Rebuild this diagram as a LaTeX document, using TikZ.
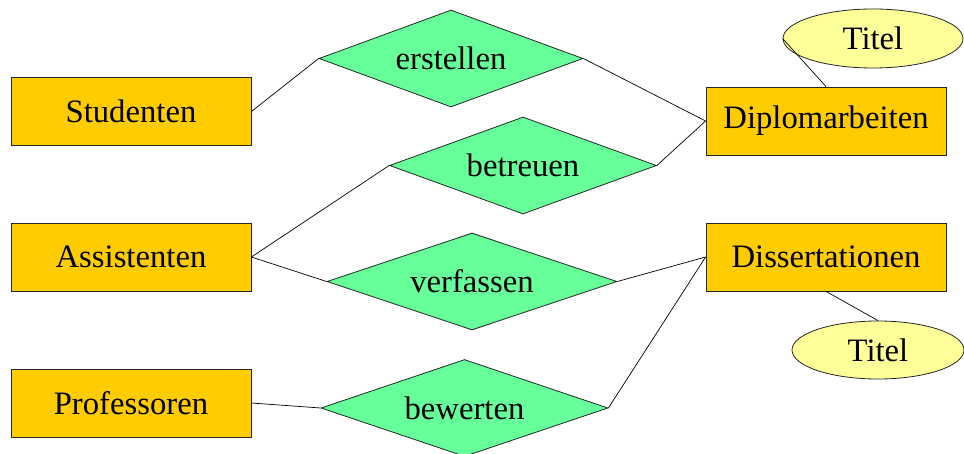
\documentclass[tikz,border=0pt]{standalone}
\usepackage{fontspec}
\setmainfont{Liberation Serif}
\usetikzlibrary{shapes.geometric}
\definecolor{entcol}{HTML}{FFCC00}
\definecolor{relcol}{HTML}{66FF99}
\definecolor{attcol}{HTML}{FFFF99}
\begin{document}
\begin{tikzpicture}[x=1pt,y=-1pt,
  every node/.style={font=\fontsize{32.7}{36}\selectfont, inner sep=0pt},
  entity/.style={rectangle, draw=black!85, line width=0.8pt, fill=entcol, minimum width=240pt, minimum height=68pt},
  relation/.style={diamond, draw=black!85, line width=0.8pt, fill=relcol, aspect=2.8, minimum height=97pt},
  attrib/.style={ellipse, draw=black!85, line width=0.8pt, fill=attcol},
  conn/.style={draw=black, line width=0.7pt}]
\useasboundingbox (0,0) rectangle (964,454);
\clip (0,0) rectangle (964,454);
\node[entity] (stud) at (131,111.5) {Studenten};
\node[entity] (assi) at (131,257) {Assistenten};
\node[entity] (prof) at (131,403) {Professoren};
\node[entity] (dipl) at (826,121) {Diplomarbeiten};
\node[entity] (diss) at (826,257) {Dissertationen};
\node[relation, minimum width=264pt] (erst) at (451,58.5) {erstellen};
\node[relation, minimum width=267pt] (betr) at (523,165.5) {betreuen};
\node[relation, minimum width=290pt] (verf) at (472,281.5) {verfassen};
\node[relation, minimum width=287pt] (bew) at (464.5,408) {bewerten};
\node[attrib, minimum width=180pt, minimum height=59pt] (tit1) at (873,38.5) {Titel};
\node[attrib, minimum width=172pt, minimum height=58pt] (tit2) at (878,350) {Titel};
\draw[conn] (stud.east) -- (erst.west);
\draw[conn] (erst.east) -- (dipl.west);
\draw[conn] (betr.east) -- (dipl.west);
\draw[conn] (assi.east) -- (betr.west);
\draw[conn] (assi.east) -- (verf.west);
\draw[conn] (verf.east) -- (diss.west);
\draw[conn] (bew.east) -- (diss.west);
\draw[conn] (prof.east) -- (bew.west);
\draw[conn] (tit1.west) -- (dipl.north);
\draw[conn] (diss.south) -- (tit2.north);
\end{tikzpicture}
\end{document}
